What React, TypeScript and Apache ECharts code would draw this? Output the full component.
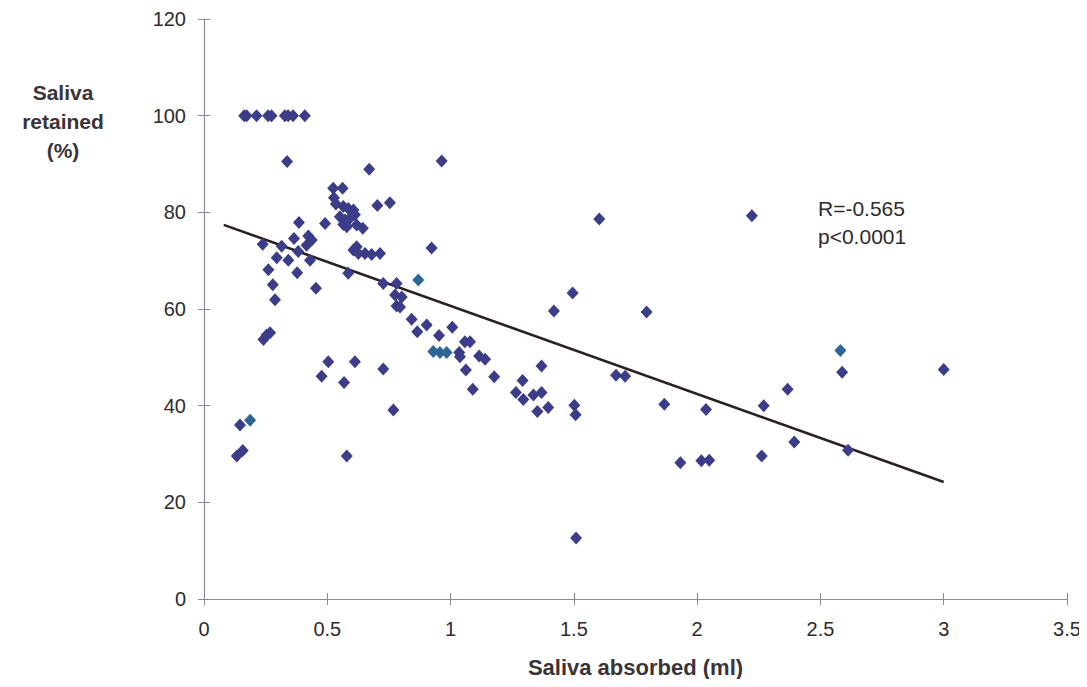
import React, { useEffect, useRef } from "react";
import * as echarts from "echarts";

const xTicks = [0, 0.5, 1, 1.5, 2, 2.5, 3, 3.5];
const yTicks = [0, 20, 40, 60, 80, 100, 120];

// Saliva absorbed (ml), Saliva retained (%)
const navyPoints: [number, number][] = [
  [0.163, 100], [0.173, 100], [0.213, 100], [0.26, 100], [0.274, 100], [0.328, 100], [0.341, 100], [0.361, 100], [0.409, 100],
  [0.337, 90.5], [0.964, 90.6], [0.67, 88.9],
  [0.524, 85.0], [0.562, 85.0], [0.527, 83.0], [0.535, 81.7], [0.565, 81.2], [0.585, 80.8], [0.606, 80.5],
  [0.551, 79.1], [0.572, 78.4], [0.592, 78.8], [0.612, 79.5], [0.619, 77.4], [0.644, 76.7], [0.565, 77.5],
  [0.579, 77.0], [0.491, 77.7], [0.703, 81.4], [0.754, 82.0],
  [0.619, 72.9], [0.606, 72.2], [0.626, 71.5], [0.653, 71.5], [0.68, 71.3], [0.714, 71.5],
  [0.385, 77.9], [0.238, 73.4], [0.315, 73.0], [0.365, 74.6], [0.423, 75.1], [0.437, 74.3], [0.416, 73.2],
  [0.382, 71.9], [0.295, 70.6], [0.342, 70.1], [0.43, 70.1], [0.261, 68.1], [0.378, 67.5], [0.279, 65.0],
  [0.454, 64.3], [0.288, 61.9], [0.241, 53.7], [0.254, 54.6], [0.268, 55.1],
  [0.585, 67.4],
  [0.727, 65.3], [0.781, 65.3], [0.775, 62.9], [0.802, 62.5], [0.781, 60.6], [0.795, 60.4], [0.923, 72.6],
  [0.842, 57.9], [0.865, 55.3], [0.903, 56.7], [0.953, 54.5], [1.007, 56.2], [1.058, 53.2], [1.079, 53.2],
  [1.035, 51.0], [1.038, 50.1], [1.116, 50.3], [1.14, 49.6], [1.062, 47.4], [1.09, 43.4], [1.177, 46.0],
  [0.504, 49.1], [0.477, 46.1], [0.568, 44.8], [0.612, 49.1], [0.727, 47.6], [0.768, 39.1],
  [0.146, 36.0], [0.133, 29.6], [0.157, 30.7], [0.579, 29.6],
  [1.603, 78.6], [1.495, 63.3], [1.419, 59.6], [1.795, 59.4], [1.369, 48.2], [1.292, 45.2], [1.265, 42.7],
  [1.295, 41.3], [1.336, 42.2], [1.369, 42.7], [1.352, 38.8], [1.396, 39.6], [1.502, 40.1], [1.507, 38.1],
  [1.509, 12.6], [1.671, 46.3], [1.708, 46.1], [1.867, 40.3], [2.036, 39.2], [2.222, 79.3], [2.588, 46.9],
  [3.0, 47.5], [2.367, 43.4], [2.27, 40.0], [2.394, 32.5], [2.612, 30.8], [2.262, 29.6], [1.932, 28.2],
  [2.017, 28.6], [2.049, 28.7],
];

const tealPoints: [number, number][] = [
  [0.187, 37.0], [0.869, 66.0], [0.93, 51.2], [0.957, 51.0], [0.984, 51.0], [2.581, 51.4],
];

const regressionLine: [number, number][] = [
  [0.08, 77.4],
  [3.0, 24.2],
];

const annotationLines = ["R=-0.565", "p<0.0001"];
const yTitleLines = ["Saliva", "retained", "(%)"];
const xTitle = "Saliva absorbed (ml)";

export default function App() {
  const ref = useRef<HTMLDivElement>(null);

  useEffect(() => {
    if (!ref.current) return;
    const chart = echarts.init(ref.current, null, { renderer: "svg" });
    const font = "'Liberation Sans', Arial, sans-serif";
    const axisColor = "#8e8799";
    const yAxisBase = {
      type: "value" as const,
      min: yTicks[0],
      max: yTicks[yTicks.length - 1],
      interval: 20,
      splitLine: { show: false },
    };
    const xAxisBase = {
      type: "value" as const,
      min: xTicks[0],
      max: xTicks[xTicks.length - 1],
      interval: 0.5,
      splitLine: { show: false },
    };
    chart.setOption({
      animation: false,
      backgroundColor: "#ffffff",
      grid: { left: 204, right: 20, top: 19, bottom: 88 },
      xAxis: [
        {
          ...xAxisBase,
          name: xTitle,
          nameLocation: "middle",
          nameGap: 57,
          nameTextStyle: { fontFamily: font, fontSize: 22, fontWeight: "bold", color: "#3a3438" },
          axisLine: { lineStyle: { color: axisColor, width: 1.2 } },
          axisTick: { show: true, length: 6, lineStyle: { color: axisColor } },
          axisLabel: { fontFamily: font, fontSize: 20, color: "#2f2a2e", margin: 20 },
        },
        {
          ...xAxisBase,
          position: "bottom",
          axisLine: { show: false },
          axisTick: { show: true, inside: true, length: 6, lineStyle: { color: axisColor } },
          axisLabel: { show: false },
        },
      ],
      yAxis: [
        {
          ...yAxisBase,
          axisLine: { show: true, lineStyle: { color: axisColor, width: 1.2 } },
          axisTick: { show: true, length: 6, lineStyle: { color: axisColor } },
          axisLabel: { fontFamily: font, fontSize: 20, color: "#2f2a2e", margin: 18 },
        },
        {
          ...yAxisBase,
          position: "left",
          axisLine: { show: false },
          axisTick: { show: true, inside: true, length: 6, lineStyle: { color: axisColor } },
          axisLabel: { show: false },
        },
      ],
      graphic: [
        {
          type: "text",
          left: 18,
          top: 78,
          style: {
            text: yTitleLines.join("\n"),
            font: `bold 21px ${font}`,
            fill: "#3a3438",
            textAlign: "center",
            lineHeight: 29,
            width: 90,
          },
        },
        {
          type: "text",
          left: 818,
          top: 194,
          style: {
            text: annotationLines.join("\n"),
            font: `21px ${font}`,
            fill: "#2f2a2e",
            lineHeight: 28,
          },
        },
      ],
      series: [
        {
          type: "line",
          data: regressionLine,
          symbol: "none",
          lineStyle: { color: "#2a2024", width: 2.6 },
          z: 1,
        },
        {
          type: "scatter",
          data: navyPoints,
          symbol: "diamond",
          symbolSize: [12, 13],
          itemStyle: { color: "#3c3d88", opacity: 1 },
          z: 3,
        },
        {
          type: "scatter",
          data: tealPoints,
          symbol: "diamond",
          symbolSize: [12, 13],
          itemStyle: { color: "#2f6596", opacity: 1 },
          z: 3,
        },
      ],
    });
    return () => chart.dispose();
  }, []);

  return <div ref={ref} style={{ width: 1087, height: 687, margin: -8 }} />;
}
